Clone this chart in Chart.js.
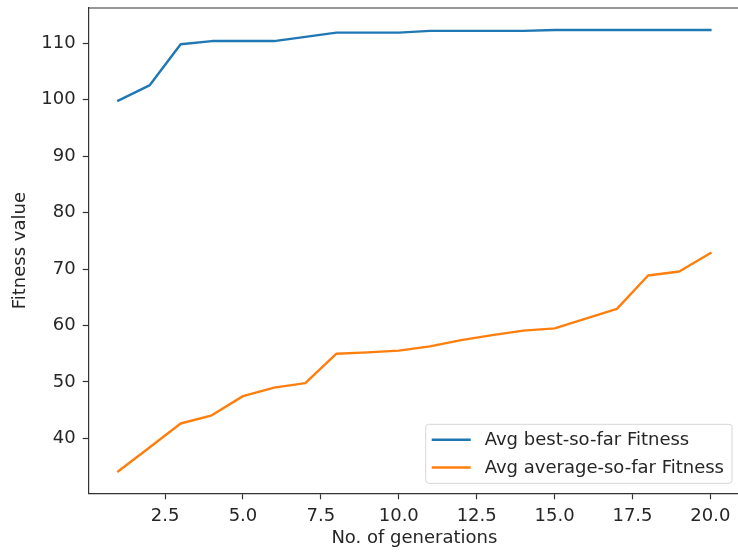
<!DOCTYPE html>
<html>
<head>
<meta charset="utf-8">
<script src="https://cdn.jsdelivr.net/npm/chart.js@4"></script>
<style>
  html, body { margin: 0; padding: 0; background: #fff; overflow: hidden; }
  #wrap { width: 738px; height: 555px; overflow: hidden; }
</style>
</head>
<body>
<div id="wrap"><canvas id="fitnessChart" width="750" height="555"></canvas></div>
<script>
// --- DATA ---
const generations = [1, 2, 3, 4, 5, 6, 7, 8, 9, 10, 11, 12, 13, 14, 15, 16, 17, 18, 19, 20];
const bestSoFar = [99.8, 102.5, 109.8, 110.35, 110.35, 110.35, 111.1, 111.85, 111.85, 111.85,
                   112.15, 112.15, 112.15, 112.15, 112.3, 112.3, 112.3, 112.3, 112.3, 112.3];
const averageSoFar = [34.2, 38.4, 42.65, 44.1, 47.5, 49.0, 49.8, 55.0, 55.25, 55.55,
                      56.3, 57.4, 58.3, 59.1, 59.5, 61.2, 62.95, 68.85, 69.55, 72.8];
const seriesLabels = ['Avg best-so-far Fitness', 'Avg average-so-far Fitness'];
const xTickValues = [2.5, 5.0, 7.5, 10.0, 12.5, 15.0, 17.5, 20.0];
const yTickValues = [40, 50, 60, 70, 80, 90, 100, 110];

// matplotlib-like 5% margins around the data
function paddedRange(values) {
    const lo = Math.min(...values), hi = Math.max(...values);
    const pad = (hi - lo) * 0.05;
    return [lo - pad, hi + pad];
}
const [xMin, xMax] = paddedRange(generations);
const [yMin, yMax] = paddedRange(bestSoFar.concat(averageSoFar));

const FONT = 'DejaVu Sans';
const FONT_SIZE = 18;
const TEXT = '#262626';
const SPINE = '#333333';

// top spine (the right one is cut off in the original) + legend box
const framePlugin = {
    id: 'frame',
    afterDraw(chart) {
        const ctx = chart.ctx;
        const a = chart.chartArea;
        ctx.save();
        ctx.strokeStyle = SPINE;
        ctx.lineWidth = 1.2;
        ctx.beginPath();
        ctx.moveTo(a.left, a.top);
        ctx.lineTo(a.right, a.top);
        ctx.stroke();

        // legend
        ctx.font = FONT_SIZE + 'px "' + FONT + '"';
        const sets = chart.data.datasets;
        const textW = Math.max(...sets.map(d => ctx.measureText(d.label).width));
        const w = 6 + 39 + 14 + textW + 8;
        const h = 59;
        const x = a.right - 8 - w;
        const y = a.bottom - 10 - h;
        ctx.beginPath();
        ctx.roundRect(x, y, w, h, 3);
        ctx.fillStyle = 'rgba(255,255,255,0.8)';
        ctx.fill();
        ctx.strokeStyle = '#d6d6d6';
        ctx.lineWidth = 1;
        ctx.stroke();
        ctx.textBaseline = 'middle';
        sets.forEach((d, i) => {
            const ry = y + 15.5 + i * 27.7;
            ctx.strokeStyle = d.borderColor;
            ctx.lineWidth = 2.4;
            ctx.beginPath();
            ctx.moveTo(x + 6, ry);
            ctx.lineTo(x + 45, ry);
            ctx.stroke();
            ctx.fillStyle = TEXT;
            ctx.fillText(d.label, x + 59, ry + 1);
        });
        ctx.restore();
    }
};

const config = {
    type: 'line',
    data: {
        labels: generations,
        datasets: [
            {
                label: seriesLabels[0],
                data: generations.map((g, i) => ({ x: g, y: bestSoFar[i] })),
                borderColor: '#1f77b4'
            },
            {
                label: seriesLabels[1],
                data: generations.map((g, i) => ({ x: g, y: averageSoFar[i] })),
                borderColor: '#ff7f0e'
            }
        ]
    },
    options: {
        responsive: false,
        animation: false,
        devicePixelRatio: 1,
        layout: { padding: { top: 8, right: 10, left: 0, bottom: 0 } },
        elements: {
            line: { borderWidth: 2.4, tension: 0, borderCapStyle: 'square', borderJoinStyle: 'round', fill: false },
            point: { radius: 0, hoverRadius: 0 }
        },
        plugins: {
            legend: { display: false },
            tooltip: { enabled: false }
        },
        scales: {
            x: {
                type: 'linear',
                min: xMin,
                max: xMax,
                afterBuildTicks: scale => { scale.ticks = xTickValues.map(v => ({ value: v })); },
                afterFit: scale => {
                    scale.height = 61.7;
                    scale.paddingLeft = 0;
                    scale.paddingRight = 0;
                },
                grid: { drawOnChartArea: false, drawTicks: true, tickLength: 6, tickColor: SPINE, tickWidth: 1.2 },
                border: { display: true, color: SPINE, width: 1.2 },
                ticks: {
                    color: TEXT,
                    font: { family: FONT, size: FONT_SIZE },
                    padding: 6,
                    maxRotation: 0,
                    autoSkip: false,
                    callback: v => Number(v).toFixed(1)
                },
                title: {
                    display: true,
                    text: 'No. of generations',
                    color: TEXT,
                    font: { family: FONT, size: FONT_SIZE },
                    padding: { top: 0, bottom: 6 }
                }
            },
            y: {
                min: yMin,
                max: yMax,
                afterBuildTicks: scale => { scale.ticks = yTickValues.map(v => ({ value: v })); },
                afterFit: scale => {
                    scale.width = 88.7;
                    scale.paddingTop = 0;
                    scale.paddingBottom = 0;
                },
                grid: { drawOnChartArea: false, drawTicks: true, tickLength: 6, tickColor: SPINE, tickWidth: 1.2 },
                border: { display: true, color: SPINE, width: 1.2 },
                ticks: {
                    color: TEXT,
                    font: { family: FONT, size: FONT_SIZE },
                    padding: 7,
                    autoSkip: false,
                    callback: v => Number(v).toFixed(0)
                },
                title: {
                    display: true,
                    text: 'Fitness value',
                    color: TEXT,
                    font: { family: FONT, size: FONT_SIZE },
                    padding: { top: 10, bottom: 0 }
                }
            }
        }
    },
    plugins: [framePlugin]
};

window.onload = () => {
    const ctx = document.getElementById('fitnessChart').getContext('2d');
    new Chart(ctx, config);
};
</script>
</body>
</html>
